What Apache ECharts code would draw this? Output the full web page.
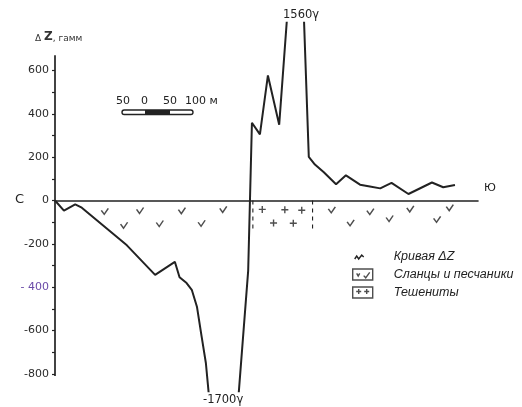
<!DOCTYPE html>
<html><head><meta charset="utf-8">
<script src="https://cdn.jsdelivr.net/npm/echarts@6/dist/echarts.min.js"></script>
<style>html,body{margin:0;padding:0;background:#fff}#c{width:522px;height:407px}</style>
</head><body><div id="c"></div>
<script>
// profile distance (m) and ΔZ (gamma)
const distanceM = [0, 19, 43, 57, 153, 213, 255, 265, 280, 291, 302, 312, 321, 362, 411, 419, 436, 453, 477, 518, 540, 553, 572, 598, 619, 649, 670, 692, 716, 752, 802, 826, 851];
const deltaZ    = [0, -47, -18, -33, -207, -343, -283, -354, -381, -412, -490, -628, -750, -1700, -325, 359, 305, 577, 350, 1560, 201, 166, 130, 75, 116, 73, 65, 56, 81, 30, 83, 61, 72];
// lithology symbols below the profile
const slateM = [106, 147, 181, 223, 270, 312, 358, 589, 629, 671, 712, 756, 813, 840];
const slateZ = [-50, -114, -46, -106, -47, -105, -41, -43, -103, -51, -83, -39, -87, -33];
const teschM = [441, 489, 525, 465, 507];
const teschZ = [-41, -43, -45, -104, -105];
const contactM = [421, 548];
const contactDepth = [-140, -146];
const yAxisSpan = [-810, 670];
const yTickValues = [-800, -700, -600, -500, -400, -300, -200, -100, 0, 100, 200, 300, 400, 500, 600];
const yLabelValues = [-800, -600, -400, -200, 0, 200, 400, 600];
const legendNames = ['Кривая ΔZ', 'Сланцы и песчаники', 'Тешениты'];

const FONT = 'DejaVu Sans';
const INK = '#222';
const zip = (a, b) => a.map((v, i) => [v, b[i]]);

const chart = echarts.init(document.getElementById('c'), null, {renderer: 'canvas'});
const open = {color: 'rgba(0,0,0,0)', borderColor: INK, borderWidth: 1.4};

chart.setOption({
  animation: false,
  backgroundColor: '#fff',
  grid: {left: 55, right: 44, top: 22.8, bottom: 15.8},
  xAxis: {
    type: 'value', min: 0, max: 900,
    axisLine: {show: true, onZero: true, lineStyle: {color: INK, width: 1.6}},
    axisTick: {show: false}, axisLabel: {show: false}, splitLine: {show: false}
  },
  yAxis: {
    type: 'value', min: -880, max: 820,
    axisLine: {show: false},
    axisTick: {show: true, length: 3, customValues: yTickValues, lineStyle: {color: INK, width: 1.2}},
    axisLabel: {
      show: true, customValues: yLabelValues, margin: 6,
      fontFamily: FONT, fontSize: 11, color: '#2a2a2a',
      formatter: v => v === -400 ? '{p|- 400}' : String(v),
      rich: {p: {color: '#6a4aa8', fontFamily: FONT, fontSize: 11}}
    },
    splitLine: {show: false}
  },
  legend: {
    orient: 'vertical', left: 347, top: 245, itemWidth: 20, itemHeight: 11, itemGap: 5,
    selectedMode: false, symbolKeepAspect: false,
    textStyle: {fontFamily: 'Liberation Sans', fontStyle: 'italic', fontSize: 12.5, color: INK, padding: [0, 0, 0, 16]},
    data: [
      {name: legendNames[0], icon: 'path://M0,0M20,11M2,8L4,5L6,8L9,4L11,6', itemStyle: open},
      {name: legendNames[1], icon: 'path://M0,0H20V10H0ZM4,4L5.5,6.5L7,4M11,6L13,8L17,3', itemStyle: open},
      {name: legendNames[2], icon: 'path://M0,0H20V11H0ZM6,2V7M3.5,4.5H8.5M14,2V7M11.5,4.5H16.5', itemStyle: open}
    ]
  },
  series: [
    {
      name: legendNames[0], type: 'line', data: zip(distanceM, deltaZ),
      symbol: 'none', clip: true, lineStyle: {color: INK, width: 2}, itemStyle: {color: INK}, z: 5
    },
    {
      name: legendNames[1], type: 'scatter', data: zip(slateM, slateZ),
      symbol: 'path://M0,2L2.5,6L6,0', symbolSize: [7, 6], itemStyle: open
    },
    {
      name: legendNames[2], type: 'scatter', data: zip(teschM, teschZ),
      symbol: 'path://M3,0V6M0,3H6', symbolSize: 7, itemStyle: open
    },
    {
      name: 'axisY', type: 'line', data: [[0, yAxisSpan[0]], [0, yAxisSpan[1]]],
      symbol: 'none', clip: false, lineStyle: {color: INK, width: 1.7}, silent: true
    },
    {
      name: 'contact1', type: 'line', data: [[contactM[0], 0], [contactM[0], contactDepth[0]]],
      symbol: 'none', lineStyle: {color: INK, width: 1.1, type: [4, 4]}, silent: true
    },
    {
      name: 'contact2', type: 'line', data: [[contactM[1], 0], [contactM[1], contactDepth[1]]],
      symbol: 'none', lineStyle: {color: INK, width: 1.1, type: [4, 4]}, silent: true
    }
  ],
  graphic: [
    {type: 'text', left: 35, top: 31, style: {text: '{s|Δ }{b|Z}{s|, гамм}', rich: {
      s: {fontFamily: FONT, fontSize: 9, fill: '#333', verticalAlign: 'bottom'},
      b: {fontFamily: FONT, fontSize: 12, fill: '#333', fontWeight: 'bold'}}}},
    {type: 'text', left: 283, top: 9, style: {text: '1560γ', fontFamily: FONT, fontSize: 11.5, fill: INK}},
    {type: 'text', left: 203, top: 394, style: {text: '-1700γ', fontFamily: FONT, fontSize: 11.5, fill: INK}},
    {type: 'text', left: 15, top: 193, style: {text: 'С', fontFamily: FONT, fontSize: 13, fill: INK}},
    {type: 'text', left: 484, top: 183, style: {text: 'Ю', fontFamily: FONT, fontSize: 11, fill: INK}},
    {type: 'rect', shape: {x: 122, y: 110, width: 71, height: 4.5, r: 2.2}, style: {fill: '#fff', stroke: INK, lineWidth: 1.4}},
    {type: 'rect', shape: {x: 145, y: 110, width: 25, height: 4.5}, style: {fill: INK}},
    {type: 'text', left: 116, top: 96, style: {text: '50', fontFamily: FONT, fontSize: 11, fill: INK}},
    {type: 'text', left: 141, top: 96, style: {text: '0', fontFamily: FONT, fontSize: 11, fill: INK}},
    {type: 'text', left: 163, top: 96, style: {text: '50', fontFamily: FONT, fontSize: 11, fill: INK}},
    {type: 'text', left: 185, top: 96, style: {text: '100 м', fontFamily: FONT, fontSize: 11, fill: INK}}
  ]
});
</script></body></html>
